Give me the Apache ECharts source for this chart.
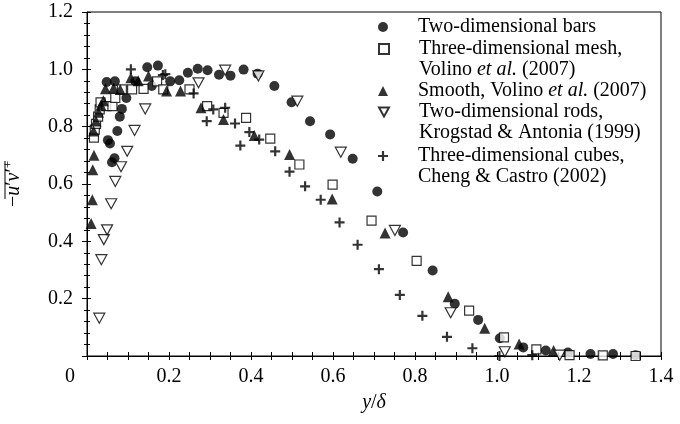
<!DOCTYPE html>
<html><head><meta charset="utf-8">
<script src="https://cdn.jsdelivr.net/npm/echarts@6/dist/echarts.min.js"></script>
<style>html,body{margin:0;padding:0;background:#fff}#c{width:680px;height:424px}</style>
</head><body><div id="c"></div>
<script>
// ---- data (x = y/delta, y = -u'v'+) ----
const barsX = [0.048,0.068,0.118,0.051,0.056,0.061,0.067,0.074,0.080,0.085,0.096,0.147,0.158,0.173,0.203,0.225,0.246,0.270,0.294,0.322,0.350,0.382,0.416,0.457,0.499,0.544,0.593,0.648,0.708,0.771,0.843,0.897,0.954,1.007,1.064,1.119,1.173,1.228,1.283,1.338];
const barsY = [0.956,0.958,0.958,0.753,0.741,0.676,0.690,0.785,0.835,0.862,0.900,1.007,0.942,1.013,0.958,0.962,0.988,1.002,0.997,0.981,0.978,0.999,0.985,0.942,0.885,0.819,0.773,0.688,0.574,0.431,0.298,0.182,0.126,0.062,0.030,0.019,0.012,0.007,0.007,0.003];

const meshX = [0.017,0.019,0.022,0.027,0.031,0.033,0.047,0.062,0.069,0.085,0.110,0.138,0.171,0.186,0.250,0.293,0.333,0.388,0.447,0.518,0.599,0.694,0.804,0.932,1.017,1.096,1.177,1.258,1.338];
const meshY = [0.762,0.790,0.810,0.835,0.860,0.885,0.872,0.872,0.900,0.930,0.930,0.932,0.958,0.930,0.930,0.872,0.848,0.831,0.758,0.668,0.598,0.472,0.332,0.158,0.065,0.023,0.003,0.002,0.000];

const smoothX = [0.010,0.013,0.014,0.017,0.016,0.022,0.028,0.034,0.040,0.045,0.065,0.081,0.107,0.125,0.150,0.194,0.228,0.278,0.333,0.408,0.494,0.598,0.727,0.881,0.970,1.054,1.138];
const smoothY = [0.462,0.545,0.650,0.700,0.785,0.820,0.850,0.875,0.890,0.932,0.935,0.930,0.971,0.960,0.977,0.924,0.924,0.866,0.825,0.769,0.703,0.548,0.429,0.207,0.097,0.042,0.019];

const rodsX = [0.030,0.035,0.041,0.049,0.059,0.069,0.083,0.098,0.116,0.142,0.272,0.337,0.418,0.513,0.619,0.751,0.887,1.019,1.153];
const rodsY = [0.132,0.336,0.406,0.440,0.531,0.609,0.660,0.714,0.787,0.862,0.953,0.997,0.977,0.889,0.711,0.438,0.151,0.015,0.003];

const cubesX = [0.107,0.185,0.191,0.260,0.292,0.308,0.337,0.361,0.374,0.396,0.420,0.459,0.494,0.532,0.570,0.616,0.660,0.712,0.763,0.818,0.878,0.940,1.006,1.086];
const cubesY = [1.000,0.980,0.983,0.916,0.819,0.860,0.866,0.811,0.734,0.781,0.755,0.714,0.643,0.592,0.545,0.466,0.388,0.303,0.213,0.140,0.067,0.027,0.000,0.003];

const seriesNames = ['Two-dimensional bars','Three-dimensional mesh','Smooth','Two-dimensional rods','Three-dimensional cubes'];
const legendText = [
  ['{n|Two-dimensional bars}'],
  ['{n|Three-dimensional mesh,}','{n|Volino }{i|et al.}{n| (2007)}'],
  ['{n|Smooth, Volino }{i|et al.}{n| (2007)}'],
  ['{n|Two-dimensional rods,}','{n|Krogstad & Antonia (1999)}'],
  ['{n|Three-dimensional cubes,}','{n|Cheng & Castro (2002)}']
];
const xTicks = [0,0.2,0.4,0.6,0.8,1.0,1.2,1.4];
const yTicks = [0,0.2,0.4,0.6,0.8,1.0,1.2];

// ---- chart ----
const FONT = 'Liberation Serif';
const FS = 20;
const zip = (a,b) => a.map((v,i)=>[v,b[i]]);
const plusPath = 'path://M3.9,0H6.1V3.9H10V6.1H6.1V10H3.9V6.1H0V3.9H3.9Z';
const downTri = 'path://M0,0L10,0L5,9Z';
const chart = echarts.init(document.getElementById('c'), null, {renderer:'canvas'});

const rich = {
  n:{fontFamily:FONT,fontSize:FS,lineHeight:21,color:'#000'},
  i:{fontFamily:FONT,fontSize:FS,lineHeight:21,color:'#000',fontStyle:'italic'}
};
const legendIcons = [null,null,null,downTri,null];
const legendIconY = [27,49,91,112,156];
const legends = seriesNames.map((nm,k)=>{
  const two = legendText[k].length>1;
  const item = legendIcons[k] ? {name:nm, icon:legendIcons[k]} : nm;
  return {
    data:[item], orient:'vertical', left:378,
    top: legendIconY[k] - (two?31.5:10.5),
    padding:0, itemWidth:10, itemHeight:10, selectedMode:false,
    formatter: ()=>legendText[k].join('\n'),
    textStyle:{fontFamily:FONT,fontSize:FS,lineHeight:21,color:'#000',
      padding: two?[21,0,0,25]:[0,0,0,25], rich}
  };
});

const axisBase = (min,max,interval,split)=>({
  type:'value', min, max, interval, splitLine:{show:false},
  axisLine:{show:true,onZero:false,lineStyle:{color:'#000',width:1}},
  minorTick:{show:true,splitNumber:split,length:3,lineStyle:{color:'#000',width:1}},
  axisTick:{show:true,inside:true,length:4,lineStyle:{color:'#000',width:1}}
});

const xMain = Object.assign(axisBase(xTicks[0],xTicks[xTicks.length-1],0.2,4),{
  position:'bottom',
  minorTick:{show:true,splitNumber:4,length:4,lineStyle:{color:'#000',width:1}},
  axisLabel:{fontFamily:FONT,fontSize:FS,color:'#000',margin:11,
    formatter:v=>v===0?'{z|0}':v.toFixed(1),
    rich:{z:{fontFamily:FONT,fontSize:FS,color:'#000',padding:[0,34,0,0]}}},
  name:'{i|y}{n|/}{i|δ}', nameLocation:'middle', nameGap:36,
  nameTextStyle:{rich}
});
const xOut = Object.assign(axisBase(xTicks[0],xTicks[xTicks.length-1],0.2,4),{
  position:'bottom', axisLine:{show:false}, axisLabel:{show:false},
  axisTick:{show:true,inside:false,length:4,lineStyle:{color:'#000',width:1}},
  minorTick:{show:true,splitNumber:4,length:4,lineStyle:{color:'#000',width:1}}
});
const yMain = Object.assign(axisBase(yTicks[0],yTicks[yTicks.length-1],0.2,5),{
  position:'left',
  minorTick:{show:true,splitNumber:5,length:3,lineStyle:{color:'#000',width:1}},
  axisLabel:{fontFamily:FONT,fontSize:FS,color:'#000',margin:14,
    formatter:v=>v===0?'':v.toFixed(1)}
});
const yOut = Object.assign(axisBase(yTicks[0],yTicks[yTicks.length-1],0.2,5),{
  position:'left', axisLine:{show:false}, axisLabel:{show:false},
  axisTick:{show:true,inside:false,length:5,lineStyle:{color:'#000',width:1}},
  minorTick:{show:true,splitNumber:5,length:3,lineStyle:{color:'#000',width:1}}
});

const mk = (name,x,y,symbol,size,style,extra)=>Object.assign({
  name, type:'scatter', data:zip(x,y), symbol, symbolSize:size,
  xAxisIndex:0, yAxisIndex:0, itemStyle:style, emphasis:{disabled:true}, animation:false
},extra||{});
const hollow = {color:'#fff',borderColor:'#000',borderWidth:1.2};

chart.setOption({
  animation:false,
  backgroundColor:'#fff',
  grid:{left:87,right:19,top:12,bottom:68,show:true,borderColor:'#000',borderWidth:1,backgroundColor:'transparent'},
  xAxis:[xMain,xOut],
  yAxis:[yMain,yOut],
  legend:legends,
  series:[
    mk(seriesNames[0],barsX,barsY,'circle',10,{color:'#000'}),
    mk(seriesNames[1],meshX,meshY,'rect',9,hollow),
    mk(seriesNames[2],smoothX,smoothY,'triangle',11,{color:'#000'}),
    mk(seriesNames[3],rodsX,rodsY,downTri,[11,10],hollow),
    mk(seriesNames[4],cubesX,cubesY,plusPath,10,{color:'#000'})
  ],
  graphic:[{
    type:'group', x:14, y:184, rotation:Math.PI/2,
    children:[
      {type:'text', style:{
        text:'{n|−}{i|u}{n|′}{i|v}{n|′}{s|+}', x:0, y:0, align:'center', verticalAlign:'middle',
        rich:{
          n:{fontFamily:FONT,fontSize:FS,fill:'#000'},
          i:{fontFamily:FONT,fontSize:FS,fontStyle:'italic',fill:'#000'},
          s:{fontFamily:FONT,fontSize:13,fill:'#000',padding:[0,0,10,0]}
        }}},
      {type:'line', shape:{x1:-15,y1:-9,x2:23,y2:-9}, style:{stroke:'#000',lineWidth:1}}
    ]
  }]
});
</script></body></html>
